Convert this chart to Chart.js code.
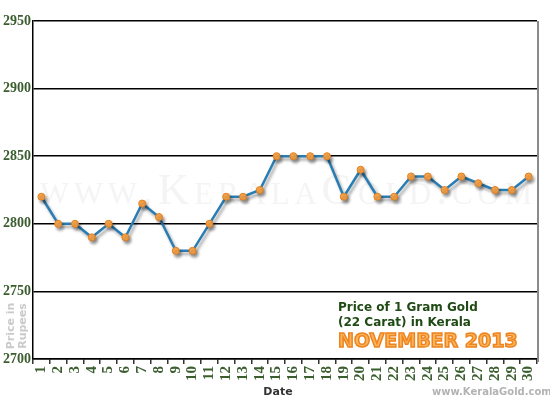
<!DOCTYPE html>
<html><head><meta charset="utf-8">
<script src="https://cdn.jsdelivr.net/npm/chart.js@4"></script>
<style>html,body{margin:0;padding:0;background:#fff;}canvas{display:block}</style>
</head><body>
<canvas id="c" width="550" height="400"></canvas>
<script>
const dates = ['1','2','3','4','5','6','7','8','9','10','11','12','13','14','15','16','17','18','19','20','21','22','23','24','25','26','27','28','29','30'];
const prices = [2820,2800,2800,2790,2800,2790,2815,2805,2780,2780,2800,2820,2820,2825,2850,2850,2850,2850,2820,2840,2820,2820,2835,2835,2825,2835,2830,2825,2825,2835];
const yTicks = [2700,2750,2800,2850,2900,2950];
const titleLines = ['Price of 1 Gram Gold','(22 Carat) in Kerala'];
const monthLabel = 'NOVEMBER 2013';
const yTitleLines = ['Price in','Rupees'];
const xTitle = 'Date';
const watermark = 'www.KeralaGold.com';
const siteLabel = 'www.KeralaGold.com';

const green = '#3b5e2f';

const decor = {
  id:'decor',
  beforeDraw(chart){
    const ctx = chart.ctx;
    ctx.save();
    ctx.fillStyle = '#f4f4f4';
    ctx.font = 'small-caps 44px "Liberation Serif"';
    ctx.letterSpacing = '5px';
    ctx.textBaseline = 'alphabetic';
    ctx.textAlign = 'left';
    ctx.fillText(watermark, 40, 204, 497);
    ctx.restore();
  },
  afterDraw(chart){
    const ctx = chart.ctx, a = chart.chartArea;
    ctx.save();
    // right border
    ctx.strokeStyle = '#8a8a8a';
    ctx.lineWidth = 2;
    ctx.beginPath();
    ctx.moveTo(a.right+1, a.top);
    ctx.lineTo(a.right+1, a.bottom+3);
    ctx.stroke();
    // annotation
    ctx.fillStyle = '#1f4a14';
    ctx.font = 'bold 12px "DejaVu Sans"';
    ctx.textAlign = 'left';
    ctx.fillText(titleLines[0], 338, 311);
    ctx.fillText(titleLines[1], 338, 326);
    ctx.font = 'bold 19px "DejaVu Sans"';
    ctx.lineWidth = 1.5;
    ctx.strokeStyle = '#ee8420';
    ctx.fillStyle = '#fbb45a';
    ctx.fillText(monthLabel, 338, 347);
    ctx.strokeText(monthLabel, 338, 347);
    // site label
    ctx.fillStyle = '#b3b3b3';
    ctx.font = 'bold 10px "DejaVu Sans"';
    ctx.fillText(siteLabel, 432, 395);
    // x title
    ctx.fillStyle = '#333';
    ctx.font = 'bold 11px "DejaVu Sans"';
    ctx.textAlign = 'center';
    ctx.fillText(xTitle, 278, 395);
    // y title
    ctx.save();
    ctx.translate(0, 326);
    ctx.rotate(-Math.PI/2);
    ctx.fillStyle = '#cacaca';
    ctx.font = 'bold 11px "DejaVu Sans"';
    ctx.textAlign = 'center';
    ctx.textBaseline = 'middle';
    ctx.fillText(yTitleLines[0], 0, 11);
    ctx.fillText(yTitleLines[1], 0, 23);
    ctx.restore();
    ctx.restore();
  },
  beforeDatasetDraw(chart){
    const ctx = chart.ctx;
    ctx.save();
    ctx.shadowColor = 'rgba(0,0,0,0.35)';
    ctx.shadowBlur = 3;
    ctx.shadowOffsetX = 2;
    ctx.shadowOffsetY = 3;
  },
  afterDatasetDraw(chart){
    chart.ctx.restore();
  }
};

new Chart(document.getElementById('c'), {
  type:'line',
  data:{
    labels: dates,
    datasets:[{
      data: prices,
      borderColor:'#2a7db3',
      borderWidth:2.5,
      pointBackgroundColor:'#f9a64c',
      pointBorderColor:'#e07f1f',
      pointBorderWidth:1,
      pointRadius:3.5,
      tension:0,
      fill:false
    }]
  },
  options:{
    responsive:false,
    animation:false,
    events:[],
    layout:{padding:{top:21,right:13,left:0,bottom:0}},
    plugins:{legend:{display:false},tooltip:{enabled:false}},
    scales:{
      x:{
        type:'category',
        offset:true,
        afterFit(s){ s.height = 41; },
        grid:{offset:true, drawOnChartArea:false, drawTicks:true, tickLength:5, color:'#333', lineWidth:1.5},
        border:{display:true, color:'#000', width:1.5},
        ticks:{autoSkip:false, maxRotation:90, minRotation:90, padding:2, color:green,
               font:{family:'"Liberation Serif"', size:15, weight:'bold'}}
      },
      y:{
        min:2700, max:2950,
        afterFit(s){ s.width = 33; },
        afterBuildTicks(s){ s.ticks = yTicks.map(v=>({value:v})); },
        grid:{color:'#000', lineWidth:1.5, drawTicks:false},
        border:{display:true, color:'#000', width:1.5},
        ticks:{padding:2, color:green, callback:(v)=>String(v),
               font:{family:'"Liberation Serif"', size:14, weight:'bold'}}
      }
    }
  },
  plugins:[decor]
});
</script>
</body></html>
